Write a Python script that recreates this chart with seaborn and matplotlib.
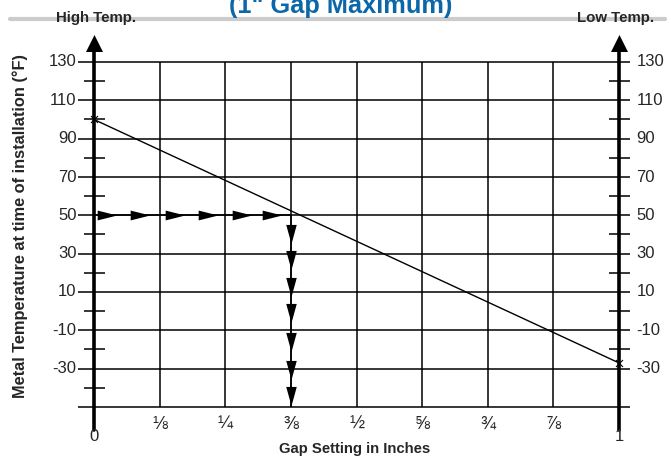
import numpy as np
import pandas as pd
import matplotlib as mpl
mpl.use('Agg')
import matplotlib.pyplot as plt
import seaborn as sns

# values
gap_ticks = [0, 1/8, 1/4, 3/8, 1/2, 5/8, 3/4, 7/8, 1]
gap_labels = ['0', '⅛', '¼', '⅜', '½', '⅝', '¾', '⅞', '1']
temp_major = [130, 110, 90, 70, 50, 30, 10, -10, -30, -50]
temp_labels = ['130', '110', '90', '70', '50', '30', '10', '-10', '-30', '']
temp_minor = [120, 100, 80, 60, 40, 20, 0, -20, -40]

line_gap = [0, 1]
line_temp = [100, -27]

# example: 50°F -> 3/8" gap
arrow_h_x = [0.025, 0.088, 0.154, 0.217, 0.282, 0.339]
arrow_h_y = [50] * 6
arrow_v_x = [3/8] * 7
arrow_v_y = [40.5, 26.5, 12.5, -1, -16, -30.5, -44.5]

sns.set_style('white')
plt.rcParams['font.family'] = ['Liberation Sans', 'DejaVu Sans']

fig = plt.figure(figsize=(6.71, 4.58), dpi=100)
W, H = 671, 458
ax = fig.add_axes([94 / W, (H - 407) / H, 525 / W, 345 / H])
ax.set_xlim(0, 1)
ax.set_ylim(-50, 130)
ax.axis('off')

# grid
ax.hlines(temp_major, -0.0305, 1.021, color='black', lw=1.1, clip_on=False, zorder=1)
ax.vlines(gap_ticks[1:-1], -50, 130, color='black', lw=1.1, zorder=1)

# the two vertical axes with arrows on top
for xv in (0, 1):
    ax.plot([xv, xv], [-62, 138], color='black', lw=2.6, clip_on=False, zorder=3)
    ax.scatter([xv], [140], marker='^', s=150, color='black', clip_on=False, zorder=4,
               linewidths=0)
ax.hlines(temp_minor, -0.02, 0.02, color='black', lw=1.1, clip_on=False, zorder=2)
ax.hlines([t for t in temp_minor if t != -40], 0.98, 1.02, color='black', lw=1.1,
          clip_on=False, zorder=2)

# temperature line
df = pd.DataFrame({'gap': line_gap, 'temp': line_temp})
sns.lineplot(data=df, x='gap', y='temp', ax=ax, color='black', lw=1.0, zorder=5)
ax.scatter(line_gap, line_temp, marker='x', s=25, color='black', lw=0.8, zorder=5,
           clip_on=False)

# example path with arrowheads
ax.plot([0, 3/8], [50, 50], color='black', lw=1.1, zorder=5)
ax.plot([3/8, 3/8], [50, -50], color='black', lw=1.1, zorder=5)
head_r = [(-1, -0.5), (1, 0), (-1, 0.5)]
head_d = [(-0.55, 1), (0, -1), (0.55, 1)]
sns.scatterplot(x=arrow_h_x, y=arrow_h_y, ax=ax, marker=head_r, s=200, color='black',
                linewidth=0, zorder=6)
sns.scatterplot(x=arrow_v_x, y=arrow_v_y, ax=ax, marker=head_d, s=190, color='black',
                linewidth=0, zorder=6)

# tick labels
for t, lab in zip(temp_major, temp_labels):
    ax.text(-0.033, t, lab, ha='right', va='center', fontsize=12)
    ax.text(1.033, t, lab, ha='left', va='center', fontsize=12)
for g, lab in zip(gap_ticks, gap_labels):
    if lab in ('0', '1'):
        ax.text(g, -65.5, lab, ha='center', va='center', fontsize=12)
    else:
        ax.text(g, -59, lab, ha='center', va='center', fontsize=13)

fig.text(355 / W, 1 - 449 / H, 'Gap Setting in Inches', ha='center', va='center',
         fontsize=10.7, fontweight='bold')
fig.text(20 / W, 1 - 226 / H, 'Metal Temperature at time of installation (°F)',
         ha='center', va='center', rotation=90, fontsize=11.8, fontweight='bold')

# header strip
fig.add_artist(plt.Line2D([10 / W, 665 / W], [1 - 19 / H] * 2, color='#cccccc', lw=3))
fig.text(96 / W, 1 - 18 / H, 'High Temp.', ha='center', va='center', fontsize=10.8,
         fontweight='bold')
fig.text(616 / W, 1 - 18 / H, 'Low Temp.', ha='center', va='center', fontsize=10.8,
         fontweight='bold')
fig.text(341 / W, 1 - 13 / H, '(1" Gap Maximum)', ha='center', va='baseline',
         fontsize=18.3, fontweight='bold', color='#0b67a8')

fig.savefig('out.png', dpi=100)
